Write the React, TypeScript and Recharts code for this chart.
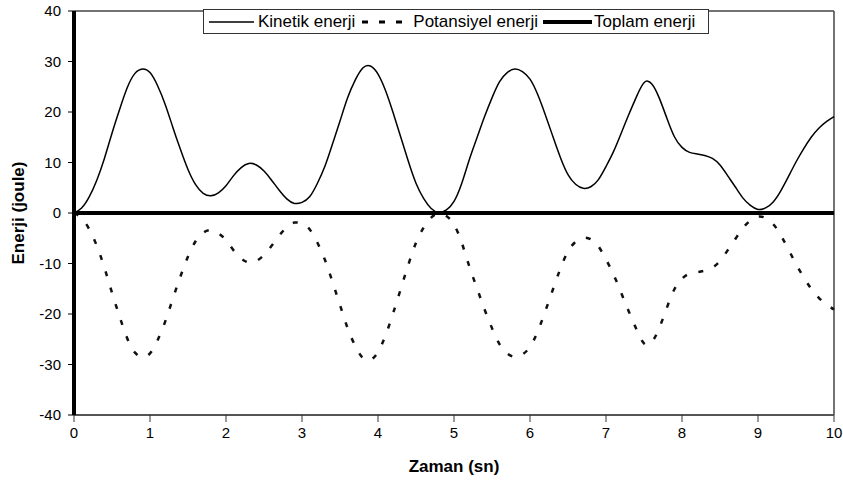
import React from "react";
import { Line, LineChart, ReferenceLine, XAxis, YAxis } from "recharts";

// time axis, 0.1 s steps
const zaman = Array.from({ length: 101 }, (_, i) => i / 10);

const kinetik = [
  0, 1.0, 3.2, 6.5, 10.8, 15.8, 20.5, 24.8, 27.6, 28.5,
  27.8, 25.2, 21.5, 17.0, 12.6, 8.6, 5.6, 3.9, 3.4, 4.0,
  5.4, 7.4, 9.0, 9.8, 9.5, 8.3, 6.5, 4.5, 2.8, 1.9,
  2.1, 3.2, 5.8, 9.2, 13.6, 18.2, 22.8, 26.3, 28.7, 29.1,
  27.5, 24.2, 19.8, 15.0, 10.2, 5.9, 2.9, 0.9, 0.1, 0.6,
  2.3, 5.8, 10.5, 14.8, 19.0, 22.8, 26.0, 27.8, 28.5, 28.0,
  26.5, 23.5, 19.5, 15.2, 11.0, 7.6, 5.7, 4.9, 5.2, 6.6,
  9.2, 12.2, 15.8, 19.5, 23.0, 25.8, 25.6, 22.8, 18.8, 15.1,
  13.0, 12.0, 11.7, 11.4, 10.8, 9.5, 7.4, 5.2, 3.0, 1.5,
  0.7, 1.0, 2.2, 4.4, 7.2, 10.1, 12.7, 15.0, 16.8, 18.1,
  19.1,
];

const potansiyel = [
  0, -1.0, -3.2, -6.5, -10.8, -15.8, -20.5, -24.8, -27.6, -28.5,
  -27.8, -25.2, -21.5, -17.0, -12.6, -8.6, -5.6, -3.9, -3.4, -4.0,
  -5.4, -7.4, -9.0, -9.8, -9.5, -8.3, -6.5, -4.5, -2.8, -1.9,
  -2.1, -3.2, -5.8, -9.2, -13.6, -18.2, -22.8, -26.3, -28.7, -29.1,
  -27.5, -24.2, -19.8, -15.0, -10.2, -5.9, -2.9, -0.9, -0.1, -0.6,
  -2.3, -5.8, -10.5, -14.8, -19.0, -22.8, -26.0, -27.8, -28.5, -28.0,
  -26.5, -23.5, -19.5, -15.2, -11.0, -7.6, -5.7, -4.9, -5.2, -6.6,
  -9.2, -12.2, -15.8, -19.5, -23.0, -25.8, -25.6, -22.8, -18.8, -15.1,
  -13.0, -12.0, -11.7, -11.4, -10.8, -9.5, -7.4, -5.2, -3.0, -1.5,
  -0.7, -1.0, -2.2, -4.4, -7.2, -10.1, -12.7, -15.0, -16.8, -18.1,
  -19.1,
];

const toplamZaman = [0, 10];
const toplam = [0, 0];

const xTicks = [0, 1, 2, 3, 4, 5, 6, 7, 8, 9, 10];
const yTicks = [-40, -30, -20, -10, 0, 10, 20, 30, 40];

const data = zaman.map((t, i) => ({ t, kinetik: kinetik[i], potansiyel: potansiyel[i] }));
const toplamData = toplamZaman.map((t, i) => ({ t, toplam: toplam[i] }));

const FONT = '"Liberation Sans", Arial, sans-serif';

const legendItems = [
  { name: "Kinetik enerji", w: 45, gapBefore: 5, gapAfter: 4, stroke: 1.5, dash: undefined },
  { name: "Potansiyel enerji", w: 41, gapBefore: 7, gapAfter: 10, stroke: 3, dash: "6 11" },
  { name: "Toplam enerji", w: 49, gapBefore: 5, gapAfter: 2, stroke: 4, dash: undefined },
];

// legend drawn as an overlay so it sits on the plot's top border, like the original
function ChartLegend() {
  return (
    <div
      style={{
        position: "absolute",
        left: 203,
        top: 9,
        display: "flex",
        alignItems: "center",
        height: 23,
        width: 504,
        border: "1px solid #333",
        background: "#fff",
        fontFamily: FONT,
        fontSize: 17,
        color: "#000",
        whiteSpace: "nowrap",
      }}
    >
      {legendItems.map((it) => (
        <React.Fragment key={it.name}>
          <svg width={it.w} height={12} style={{ marginLeft: it.gapBefore, marginRight: it.gapAfter }}>
            <line x1={0} y1={6} x2={it.w} y2={6} stroke="#000" strokeWidth={it.stroke} strokeDasharray={it.dash} />
          </svg>
          <span>{it.name}</span>
        </React.Fragment>
      ))}
    </div>
  );
}

export default function App() {
  return (
    <div style={{ position: "absolute", left: 0, top: 0, width: 843, height: 487, background: "#fff" }}>
      <LineChart
        width={843}
        height={487}
        data={data}
        margin={{ top: 11, right: 9, bottom: 12, left: 0 }}
        style={{ fontFamily: FONT }}
      >
        <XAxis
          dataKey="t"
          type="number"
          domain={[0, 10]}
          ticks={xTicks}
          interval={0}
          height={60}
          axisLine={{ stroke: "#555", strokeWidth: 2 }}
          tickLine={{ stroke: "#333", strokeWidth: 1 }}
          tickSize={7}
          tickMargin={5}
          tick={{ fill: "#000", fontSize: 15 }}
          label={{
            value: "Zaman (sn)",
            position: "insideBottom",
            offset: 3,
            style: { fontWeight: "bold", fontSize: 17, fill: "#000" },
          }}
        />
        <YAxis
          type="number"
          domain={[-40, 40]}
          ticks={yTicks}
          interval={0}
          width={74}
          axisLine={{ stroke: "#000", strokeWidth: 4 }}
          tickLine={{ stroke: "#000", strokeWidth: 1 }}
          tickSize={6}
          tickMargin={7}
          tick={{ fill: "#000", fontSize: 15 }}
          label={{
            value: "Enerji (joule)",
            angle: -90,
            position: "insideLeft",
            offset: 18,
            style: { textAnchor: "middle", fontWeight: "bold", fontSize: 17, fill: "#000" },
          }}
        />
        <ReferenceLine y={40} stroke="#444" strokeWidth={1.5} />
        <ReferenceLine x={10} stroke="#444" strokeWidth={1.5} />
        <Line
          name="Kinetik enerji"
          dataKey="kinetik"
          type="natural"
          stroke="#000"
          strokeWidth={1.5}
          dot={false}
          isAnimationActive={false}
        />
        <Line
          name="Potansiyel enerji"
          dataKey="potansiyel"
          type="natural"
          stroke="#111"
          strokeWidth={2.5}
          strokeDasharray="5 12"
          dot={false}
          isAnimationActive={false}
        />
        <Line
          name="Toplam enerji"
          data={toplamData}
          dataKey="toplam"
          type="linear"
          stroke="#000"
          strokeWidth={4}
          dot={false}
          isAnimationActive={false}
        />
      </LineChart>
      <ChartLegend />
    </div>
  );
}
